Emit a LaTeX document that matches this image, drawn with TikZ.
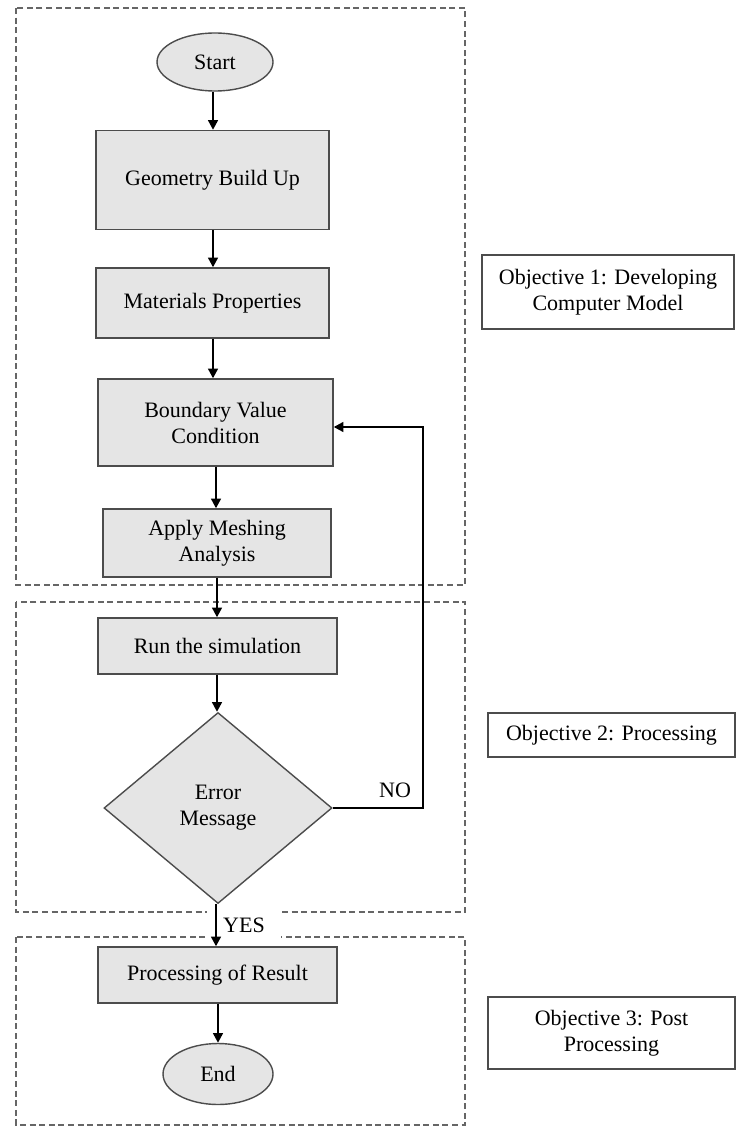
\documentclass[tikz,border=0pt]{standalone}
\usepackage{fontspec}
\setmainfont{Liberation Serif}
\usetikzlibrary{shapes.geometric,arrows.meta}
\begin{document}
\begin{tikzpicture}[x=0.5pt,y=-0.5pt,
 every node/.style={font=\fontsize{11}{13}\selectfont, text=black},
 proc/.style={draw=black!70, fill=black!10, line width=0.7pt, align=center, inner sep=0pt},
 term/.style={ellipse, draw=black!70, fill=black!10, line width=0.7pt, inner sep=0pt},
 dec/.style={diamond, draw=black!70, fill=black!10, line width=0.7pt, align=center, inner sep=0pt},
 obj/.style={draw=black!70, line width=0.7pt, align=center, inner sep=0pt},
 grp/.style={draw=black!60, dash pattern=on 3pt off 1.8pt, line width=0.7pt},
 arr/.style={draw=black, line width=1.1pt, -{Triangle[length=4.8pt,width=4.8pt]}}]
\useasboundingbox (0,0) rectangle (736,1128);
% group frames
\draw[grp] (16,8) rectangle (465,585);
\draw[grp] (16,602) rectangle (465,912);
\draw[grp] (16,937) rectangle (465,1125);
% flow nodes
\node[term, minimum width=58pt, minimum height=29pt] (start) at (215,62) {Start};
\node[proc, minimum width=116.5pt, minimum height=49.5pt] (geo) at (212.5,180) {Geometry Build Up};
\node[proc, minimum width=116.5pt, minimum height=35pt] (mat) at (212.5,303) {Materials Properties};
\node[proc, minimum width=117.5pt, minimum height=43.5pt] (bnd) at (215.5,422.5) {Boundary Value\\Condition};
\node[proc, minimum width=114pt, minimum height=34pt] (mesh) at (217,543) {Apply Meshing\\Analysis};
\node[proc, minimum width=119.5pt, minimum height=28pt] (run) at (217.5,646) {Run the simulation};
\node[dec, minimum width=114pt, minimum height=95.5pt] (err) at (218,808) {Error\\Message};
\node[proc, minimum width=119.5pt, minimum height=28pt] (res) at (217.5,975) {Processing of Result};
\node[term, minimum width=55pt, minimum height=30.5pt] (end) at (218,1074) {End};
% labels
\node[fill=white, minimum width=37pt, minimum height=16pt, inner sep=0pt] (yes) at (244,925) {YES};
\node[inner sep=0pt] (no) at (395,790) {NO};
% objective boxes
\node[obj, minimum width=126pt, minimum height=37pt] (o1) at (608,292) {Objective 1: Developing\\Computer Model};
\node[obj, minimum width=123.5pt, minimum height=22pt] (o2) at (611.5,735) {Objective 2: Processing};
\node[obj, minimum width=123.5pt, minimum height=36pt] (o3) at (611.5,1033) {Objective 3: Post\\Processing};
% connectors
\draw[arr] (start.south -| 213,0) -- (geo.north -| 213,0);
\draw[arr] (geo.south -| 213,0) -- (mat.north -| 213,0);
\draw[arr] (mat.south -| 213,0) -- (bnd.north -| 213,0);
\draw[arr] (bnd.south -| 216,0) -- (mesh.north -| 216,0);
\draw[arr] (mesh.south -| 217,0) -- (run.north -| 217,0);
\draw[arr] (run.south -| 217,0) -- (err.north -| 217,0);
\draw[arr] (err.south -| 216,0) -- (res.north -| 216,0);
\draw[arr] (res.south -| 218,0) -- (end.north -| 218,0);
\coordinate (loop) at (423,427);
\draw[arr] (err.east) -| (loop) -- (bnd.east |- loop);
\end{tikzpicture}
\end{document}
